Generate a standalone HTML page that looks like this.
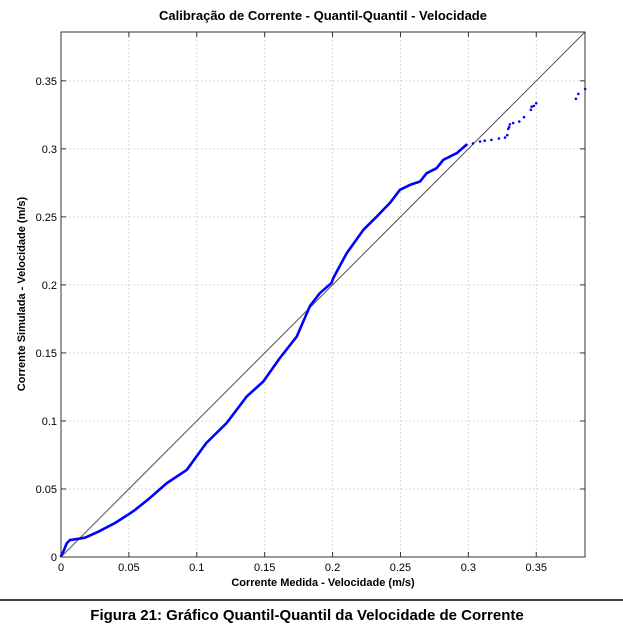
<!DOCTYPE html>
<html><head><meta charset="utf-8"><style>
body{margin:0;background:#fff;}
svg{display:block;font-family:"Liberation Sans",Arial,sans-serif;}
</style></head><body>
<svg id="chart" width="623" height="629">
  <text x="323" y="20" text-anchor="middle" font-size="13" font-weight="bold">Calibração de Corrente - Quantil-Quantil - Velocidade</text>
  <g id="grid"></g>
  <g id="ticks"></g>
  <line id="diag" stroke="#555" stroke-width="1"/>
  <g id="series"></g>
  <rect x="61" y="32" width="524" height="525" fill="none" stroke="#333" stroke-width="1"/>
  <text x="323" y="586" text-anchor="middle" font-size="11" font-weight="bold">Corrente Medida - Velocidade (m/s)</text>
  <text transform="translate(25,294) rotate(-90)" text-anchor="middle" font-size="11" font-weight="bold">Corrente Simulada - Velocidade (m/s)</text>
  <line x1="0" y1="600" x2="623" y2="600" stroke="#000" stroke-width="1.5"/>
  <text x="307" y="620" text-anchor="middle" font-size="15" font-weight="bold">Figura 21: Gráfico Quantil-Quantil da Velocidade de Corrente</text>
</svg>
<script>
const xTicks=[0,0.05,0.1,0.15,0.2,0.25,0.3,0.35];
const yTicks=[0,0.05,0.1,0.15,0.2,0.25,0.3,0.35];
const xTickLabels=["0","0.05","0.1","0.15","0.2","0.25","0.3","0.35"];
const yTickLabels=["0","0.05","0.1","0.15","0.2","0.25","0.3","0.35"];
const lineX=[0,0.0017,0.0042,0.0066,0.0116,0.0177,0.0275,0.0398,0.0508,0.0545,0.0655,0.0778,0.0926,0.107,0.122,0.1368,0.149,0.161,0.1736,0.1834,0.1907,0.1993,0.2005,0.2104,0.2226,0.2325,0.2423,0.2496,0.257,0.2644,0.2693,0.2766,0.2815,0.2914,0.2986];
const lineY=[0.0007,0.0039,0.010,0.0125,0.0132,0.0142,0.0186,0.025,0.032,0.0346,0.0434,0.0542,0.064,0.0838,0.0985,0.118,0.129,0.146,0.162,0.1846,0.194,0.2015,0.205,0.2233,0.2404,0.2502,0.2603,0.2699,0.2735,0.276,0.2821,0.2858,0.2919,0.2968,0.303];
const tailX=[0.3034,0.3086,0.312,0.317,0.3225,0.327,0.3286,0.3294,0.33,0.3306,0.333,0.3375,0.341,0.346,0.3466,0.3483,0.35,0.3792,0.381,0.386];
const tailY=[0.304,0.3054,0.306,0.3066,0.3076,0.3083,0.3101,0.3147,0.316,0.318,0.319,0.3201,0.3233,0.3287,0.331,0.3316,0.3336,0.3368,0.3404,0.344];
const X0=61,X1=585,Y0=557,Y1=32,DMAX=0.3859;
const sx=v=>X0+v/DMAX*(X1-X0);
const sy=v=>Y0-v/DMAX*(Y0-Y1);
const NS="http://www.w3.org/2000/svg";
const grid=document.getElementById('grid'),ticks=document.getElementById('ticks'),series=document.getElementById('series');
function mk(t,a){const e=document.createElementNS(NS,t);for(const k in a)e.setAttribute(k,a[k]);return e;}
xTicks.forEach((v,i)=>{
  const x=sx(v);
  if(v>0){const g=mk('line',{x1:x,y1:Y1,x2:x,y2:Y0,stroke:'#d8d8d8','stroke-dasharray':'2,2'});
  
  grid.appendChild(g);}
  const t1=mk('line',{x1:x,y1:Y0,x2:x,y2:Y0-5,stroke:'#333'});
  
  ticks.appendChild(t1);
  const t2=mk('line',{x1:x,y1:Y1,x2:x,y2:Y1+5,stroke:'#333'});
  
  ticks.appendChild(t2);
  const l=mk('text',{x:x,y:Y0+14,'text-anchor':'middle','font-size':11});
  l.textContent=xTickLabels[i];
  
  ticks.appendChild(l);
});
yTicks.forEach((v,i)=>{
  const y=sy(v);
  if(v>0){const g=mk('line',{x1:X0,y1:y,x2:X1,y2:y,stroke:'#d8d8d8','stroke-dasharray':'2,2'});
  
  grid.appendChild(g);}
  const t1=mk('line',{x1:X0,y1:y,x2:X0+5,y2:y,stroke:'#333'});
  
  ticks.appendChild(t1);
  const t2=mk('line',{x1:X1,y1:y,x2:X1-5,y2:y,stroke:'#333'});
  
  ticks.appendChild(t2);
  const l=mk('text',{x:X0-4,y:y+4,'text-anchor':'end','font-size':11});
  l.textContent=yTickLabels[i];
  
  ticks.appendChild(l);
});
const d=document.getElementById('diag');
d.setAttribute('x1',sx(0));d.setAttribute('y1',sy(0));d.setAttribute('x2',sx(DMAX));d.setAttribute('y2',sy(DMAX));
const pl=mk('polyline',{points:lineX.map((v,i)=>sx(v)+','+sy(lineY[i])).join(' '),fill:'none',stroke:'#0000ff','stroke-width':2.6,'stroke-linejoin':'round','stroke-linecap':'round'});


series.appendChild(pl);
tailX.forEach((v,i)=>{
  const c=mk('circle',{cx:sx(v),cy:sy(tailY[i]),r:1.3,fill:'#0000ff'});
  
  
  series.appendChild(c);
});
</script>
</body></html>
